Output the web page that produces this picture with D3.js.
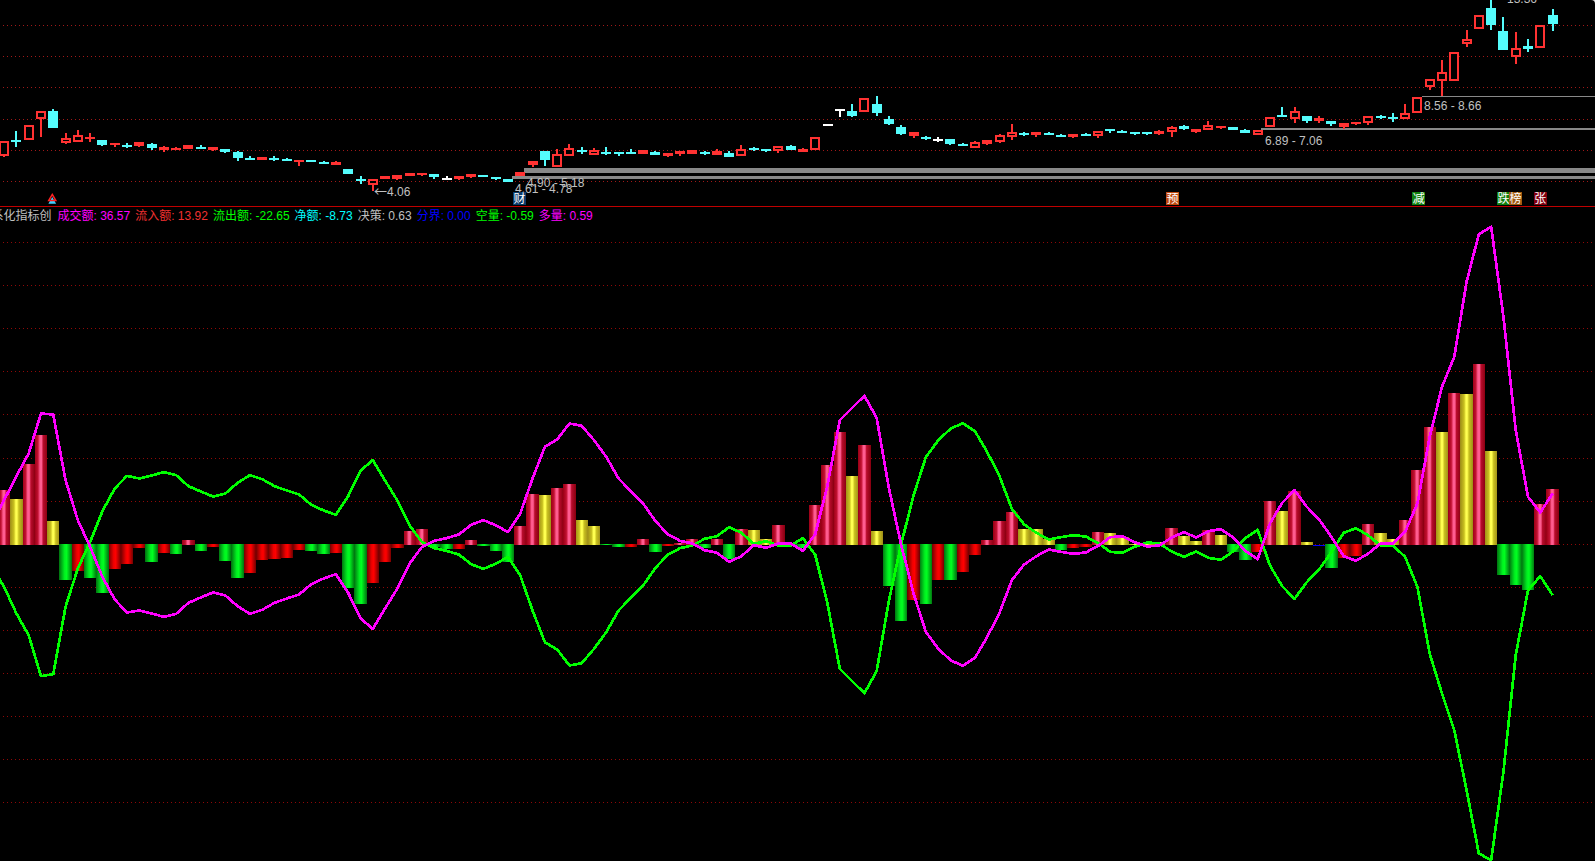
<!DOCTYPE html>
<html><head><meta charset="utf-8">
<style>html,body{margin:0;padding:0;background:#000;overflow:hidden}svg{display:block}</style>
<script src="https://cdn.jsdelivr.net/npm/d3@7/dist/d3.min.js"></script>
</head><body><div id="chart"></div>
<script>
// ---- candle data (price) ----
const opens=[5.62,6.40,6.40,7.44,7.84,6.27,6.32,6.44,6.42,6.17,6.17,6.10,6.20,5.90,5.90,5.95,6.07,5.90,5.95,5.80,5.50,5.42,5.50,5.45,5.34,5.40,5.32,5.15,4.95,4.44,4.15,4.47,4.47,4.60,4.67,4.70,4.50,4.47,4.54,4.64,4.54,4.45,4.60,5.14,5.85,5.05,5.59,5.90,5.64,5.80,5.80,5.82,5.72,5.80,5.62,5.72,5.70,5.82,5.64,5.77,5.59,5.99,5.95,5.84,6.10,5.82,5.89,7.20,7.95,7.84,7.79,8.20,7.45,7.07,6.62,6.57,6.45,6.45,6.20,6.02,6.22,6.32,6.54,6.75,6.67,6.77,6.67,6.57,6.70,6.59,6.95,6.84,6.79,6.79,6.72,6.79,7.12,6.82,6.89,7.02,7.05,6.90,6.67,7.04,7.65,7.47,7.59,7.34,7.35,7.04,7.22,7.24,7.60,7.55,7.44,7.74,9.04,9.34,9.34,11.22,11.97,13.00,11.85,10.54,11.10,10.99,12.65];
const closes=[6.37,6.33,7.15,7.84,7.02,6.49,6.65,6.54,6.15,6.24,6.07,6.30,5.99,6.05,5.99,6.15,6.00,6.05,5.79,5.50,5.45,5.55,5.45,5.35,5.40,5.32,5.27,5.30,4.70,4.35,4.44,4.60,4.64,4.74,4.74,4.54,4.50,4.59,4.70,4.57,4.47,4.30,4.80,5.34,5.40,5.69,5.99,5.79,5.89,5.74,5.77,5.77,5.90,5.67,5.75,5.85,5.90,5.72,5.84,5.57,5.97,5.95,5.85,6.12,5.92,5.95,6.54,7.20,7.95,7.62,8.49,7.77,7.20,6.70,6.80,6.49,6.45,6.20,6.12,6.29,6.39,6.64,6.79,6.67,6.79,6.67,6.62,6.69,6.62,6.84,6.85,6.75,6.70,6.72,6.85,7.05,6.95,6.94,7.14,7.10,6.92,6.77,6.89,7.57,7.54,7.87,7.34,7.49,7.22,7.27,7.29,7.60,7.52,7.49,7.77,8.57,9.47,9.79,10.79,11.44,12.64,12.15,10.90,11.02,10.97,12.14,12.20];
const highs=[6.37,6.85,7.15,7.84,7.95,6.77,6.90,6.77,6.42,6.24,6.24,6.30,6.27,6.10,6.07,6.15,6.14,6.05,5.95,5.87,5.59,5.55,5.59,5.52,5.40,5.40,5.37,5.35,4.95,4.60,4.44,4.60,4.64,4.74,4.74,4.70,4.60,4.59,4.70,4.64,4.54,4.45,4.80,5.34,5.85,5.94,6.20,6.05,6.00,6.05,5.80,5.95,5.90,5.87,5.75,5.85,5.90,5.87,5.94,5.87,6.15,6.07,5.95,6.12,6.15,6.00,6.54,7.20,7.95,8.20,8.49,8.60,7.60,7.15,6.80,6.62,6.55,6.45,6.27,6.35,6.39,6.70,7.20,6.82,6.79,6.82,6.72,6.69,6.75,6.84,6.95,6.89,6.79,6.79,6.90,7.10,7.17,6.94,7.35,7.10,7.05,6.97,6.89,7.57,8.05,8.05,7.59,7.59,7.35,7.27,7.29,7.60,7.65,7.74,8.19,8.57,9.47,10.40,10.79,11.90,12.64,13.65,12.55,11.80,11.45,12.14,12.95];
const lows=[5.57,6.07,6.40,6.57,7.02,6.20,6.32,6.32,6.10,6.05,6.00,6.05,5.90,5.80,5.89,5.95,5.94,5.85,5.75,5.35,5.40,5.42,5.35,5.34,5.10,5.32,5.24,5.15,4.70,4.20,3.85,4.47,4.42,4.60,4.62,4.45,4.47,4.42,4.49,4.57,4.40,4.30,4.60,5.04,5.10,5.05,5.59,5.72,5.64,5.65,5.60,5.77,5.72,5.67,5.55,5.62,5.70,5.65,5.64,5.57,5.59,5.85,5.80,5.77,5.92,5.82,5.89,7.20,7.57,7.57,7.79,7.60,7.15,6.65,6.50,6.40,6.30,6.15,6.10,6.02,6.17,6.25,6.42,6.62,6.57,6.67,6.55,6.52,6.62,6.52,6.75,6.75,6.65,6.65,6.65,6.55,6.90,6.75,6.89,6.97,6.92,6.77,6.67,7.04,7.54,7.27,7.27,7.27,7.12,6.94,7.15,7.17,7.45,7.32,7.44,7.74,8.90,8.60,9.34,11.05,11.97,11.90,10.90,10.20,10.80,10.99,11.85];

// ---- indicator data ----
const barValues=[163,136,241,328,70,-107,-80,-101,-146,-74,-59,-11,-53,-26,-29,13,-20,-8,-50,-101,-86,-47,-44,-41,-17,-20,-29,-26,-131,-179,-116,-53,-11,40,46,-8,-14,-14,13,-5,-20,-53,55,151,148,169,181,73,55,-2,-7,-7,16,-22,-5,6,18,-11,16,-44,46,43,16,58,-1,-10,118,238,337,205,298,40,-125,-230,-167,-179,-107,-107,-83,-32,13,70,97,46,46,18,-17,-11,-7,37,34,23,2,2,8,49,25,10,45,28,-22,-47,-22,130,100,160,7,0,-71,-40,-35,61,34,16,73,223,352,337,454,451,541,280,-92,-122,-137,121,166];
const barKinds="c y c c y g r g g r r r g r g c g r g g r r r r r g g r g g r r r c c g g r c g g g c c y c c y y g g r c g r c c g c g c y y c g g c c c y c y g g r g r g r r c c c y y y g r r c y y y y y c y y c y g g r c y c y b g r r c y y c c c y c y c y g g g c c".split(" ");
// the first value of each line belongs to the bar just left of the picture
const buyLine=[65,133,205,273,393,390,193,73,-7,-97,-165,-204,-198,-207,-217,-208,-175,-159,-144,-153,-185,-208,-196,-175,-162,-150,-119,-102,-89,-145,-222,-253,-192,-132,-57,-7,11,19,30,59,73,58,37,93,198,293,315,363,356,313,263,198,160,123,70,31,11,3,-17,-25,-52,-35,-2,-10,3,3,-19,31,178,373,410,446,380,168,-2,-147,-262,-312,-347,-364,-340,-277,-205,-107,-60,-35,-15,-22,-28,-24,-5,22,25,7,-6,-3,21,37,21,40,46,21,-19,-44,63,125,163,113,75,23,-35,-49,-27,3,3,38,123,323,473,563,788,931,953,683,343,143,96,153];
const sellLine=[-67,-127,-207,-272,-395,-389,-187,-72,8,100,168,206,198,207,217,208,175,159,144,153,185,208,196,175,162,150,119,102,89,145,222,253,192,132,57,7,-11,-19,-30,-59,-73,-58,-37,-93,-198,-293,-315,-363,-356,-313,-263,-198,-160,-123,-70,-31,-11,-3,17,25,52,35,2,10,-3,-3,19,-31,-178,-373,-410,-446,-380,-168,2,147,262,312,347,364,340,277,205,107,60,35,15,22,28,24,5,-22,-25,-7,6,3,-21,-37,-21,-40,-46,-21,19,44,-63,-125,-163,-113,-75,-23,35,49,27,-3,-3,-37,-127,-327,-447,-557,-737,-927,-947,-682,-332,-137,-95,-152];

// grid levels
const gridPrice=[12.14,10.59,9.04,7.44,5.89,4.34];
const gridIndicator=[906,777,648,519,390,258,129,0,-129,-258,-387,-516,-645,-774];

// legend
const legendTitle="系化指标创";
const legendLabels=["成交额","流入额","流出额","净额","决策","分界","空量","多量"];
const legendValues=["36.57","13.92","-22.65","-8.73","0.63","0.00","-0.59","0.59"];
const legendColors=["#ff00ff","#f03030","#00ff00","#00ffff","#c0c0c0","#0000ff","#00ff00","#ff00ff"];

// price zones and notes
const zoneTexts=["8.56 - 8.66","6.89 - 7.06","4.90 - 5.18","4.61 - 4.78"];
const zoneUpper=[8.60,7.00,5.00,4.60];
const zoneLower=[8.55,6.90,4.765,4.45];
const zoneStartIdx=[115.4,102.3,42.3,41.3];
const noteIcons=["财","预","减","跌","榜","张"];
const noteIdx=[41.94,95.07,115.1,122.0,122.98,125];
const noteFill=["#0a3a6a","#c04a10","#108010","#108010","#a05a10","#800010"];

// ---- drawing ----
const W=1595,H=861;
const svg=d3.select("#chart").append("svg").attr("width",W).attr("height",H).style("background","#000");
const x=d3.scaleLinear().domain([0,126]).range([4.1,1552.6]);
const py=d3.scaleLinear().domain([13.4,3.4]).range([0,200]);
const y=d3.scaleLinear().domain([0,1000]).range([544.5,211.17]);

const defs=svg.append("defs");
const grads={
 c:[[0,"#9c0016"],[.25,"#c01030"],[.42,"#ff5c90"],[.55,"#ff5c90"],[.68,"#b80c2c"],[1,"#8c0012"]],
 y:[[0,"#a09018"],[.3,"#c8c020"],[.45,"#ffff50"],[.55,"#ffff50"],[.7,"#c8c020"],[1,"#a09018"]],
 r:[[0,"#700000"],[.42,"#f00000"],[.58,"#ff0000"],[1,"#700000"]],
 g:[[0,"#007810"],[.42,"#00f020"],[.58,"#00ff20"],[1,"#007810"]],
 b:[[0,"#0000ff"],[1,"#0000ff"]]
};
Object.keys(grads).forEach(k=>{
 const g=defs.append("linearGradient").attr("id","grad-"+k).attr("x1",0).attr("x2",1).attr("y1",0).attr("y2",0);
 grads[k].forEach(s=>g.append("stop").attr("offset",s[0]).attr("stop-color",s[1]));
});

// dotted grid
svg.append("g").selectAll("line").data(gridPrice).join("line")
 .attr("x1",3).attr("x2",W).attr("y1",d=>Math.floor(py(d))+.5).attr("y2",d=>Math.floor(py(d))+.5)
 .attr("stroke","#a01818").attr("stroke-dasharray","1 3");
svg.append("g").selectAll("line").data(gridIndicator).join("line")
 .attr("x1",3).attr("x2",W).attr("y1",d=>Math.floor(y(d))+.5).attr("y2",d=>Math.floor(y(d))+.5)
 .attr("stroke","#900808").attr("stroke-dasharray","1 3");

// zones
svg.append("g").attr("shape-rendering","crispEdges").selectAll("rect").data(zoneTexts).join("rect")
 .attr("x",(d,i)=>x(zoneStartIdx[i])).attr("width",(d,i)=>W-x(zoneStartIdx[i]))
 .attr("y",(d,i)=>py(zoneUpper[i])).attr("height",(d,i)=>Math.max(1,py(zoneLower[i])-py(zoneUpper[i])))
 .attr("fill","#888888");

// candles
const candleColor=i=>closes[i]>opens[i]?"#ff3232":closes[i]<opens[i]?"#54fcfc":"#ffffff";
const cg=svg.append("g").attr("shape-rendering","crispEdges");
d3.range(opens.length).forEach(i=>{
 const c=candleColor(i), cx=Math.round(x(i));
 cg.append("rect").attr("x",cx-1).attr("width",2).attr("y",py(highs[i])).attr("height",Math.max(0,py(lows[i])-py(highs[i]))).attr("fill",c);
 const t=py(Math.max(opens[i],closes[i])), b=py(Math.min(opens[i],closes[i]));
 const h=Math.max(2,b-t), bx=cx-5, bw=10;
 cg.append("rect").attr("x",bx).attr("y",t).attr("width",bw).attr("height",h).attr("fill",c);
 if(closes[i]>opens[i] && h>4) cg.append("rect").attr("x",bx+2).attr("y",t+2).attr("width",bw-4).attr("height",h-4).attr("fill","#000");
});

// indicator bars
svg.append("g").attr("shape-rendering","crispEdges").selectAll("rect").data(barValues).join("rect")
 .attr("x",(d,i)=>x(i)-6.15).attr("width",12.3)
 .attr("y",d=>d>=0?y(d):y(0)-.5)
 .attr("height",d=>d>=0?Math.max(1,y(0)+.5-y(d)):y(d)-y(0)+.5)
 .attr("fill",(d,i)=>`url(#grad-${barKinds[i]})`);

// lines
const lineGen=d3.line().x((d,i)=>x(i-1)).y(d=>y(d));
svg.append("path").datum(sellLine).attr("d",lineGen).attr("fill","none").attr("stroke","#00ff00").attr("stroke-width",2.7).attr("shape-rendering","crispEdges").attr("stroke-linejoin","round");
svg.append("path").datum(buyLine).attr("d",lineGen).attr("fill","none").attr("stroke","#ff00ff").attr("stroke-width",2.7).attr("shape-rendering","crispEdges").attr("stroke-linejoin","round");

// separator
svg.append("line").attr("x1",0).attr("x2",W).attr("y1",206.5).attr("y2",206.5).attr("stroke","#c00000");

// texts
const SANS="'Liberation Sans',Arial,sans-serif", CJK="'Liberation Sans','Noto Sans CJK SC',sans-serif";
const notes=[["8.56 - 8.66",1424,110],["6.89 - 7.06",1265,144.7],["4.90 - 5.18",527,186.7],["4.61 - 4.78",515,193],["4.06",387,195.7],["13.36",1507,3]];
svg.append("g").selectAll("text").data(notes).join("text")
 .attr("x",d=>d[1]).attr("y",d=>d[2]).text(d=>d[0])
 .attr("fill","#c0c0c0").attr("font-family",SANS).attr("font-size",12);
svg.append("text").attr("x",374).attr("y",196).text("←").attr("fill","#c0c0c0").attr("font-family","'Noto Sans CJK SC'").attr("font-size",13);

// note icons
const ng=svg.append("g");
noteIcons.forEach((t,i)=>{
 const cx=x(noteIdx[i]);
 ng.append("rect").attr("x",cx-6.3).attr("y",192).attr("width",12.6).attr("height",12.7).attr("fill",noteFill[i]).attr("shape-rendering","crispEdges");
 ng.append("text").attr("x",cx).attr("y",202.8).attr("text-anchor","middle").text(t).attr("fill","#fff").attr("font-family",CJK).attr("font-size",12);
});

// up marker
const mx=x(4)-1;
svg.append("path").attr("transform",`translate(${mx},201.5)`).attr("d",d3.symbol(d3.symbolTriangle,26)).attr("fill","#40d0ff");
svg.append("path").attr("transform",`translate(${mx},198.5)`).attr("d",d3.symbol(d3.symbolTriangle,22)).attr("fill","none").attr("stroke","#ff2020").attr("stroke-width",1.5);

// legend
const lg=svg.append("g").attr("font-family",CJK).attr("font-size",12);
lg.append("text").attr("x",-8.6).attr("y",219.5).attr("fill","#c0c0c0").text(legendTitle);
let lx=57.5;
legendLabels.forEach((l,i)=>{
 const t=lg.append("text").attr("x",lx).attr("y",219.5).attr("fill",legendColors[i]).text(`${l}: ${legendValues[i]}`);
 lx+=t.node().getComputedTextLength()+5;
});

// window corner
svg.append("path").attr("d",`M${W},0h-4q4,0,4,4z`).attr("fill","#d8d8d8");
</script></body></html>
